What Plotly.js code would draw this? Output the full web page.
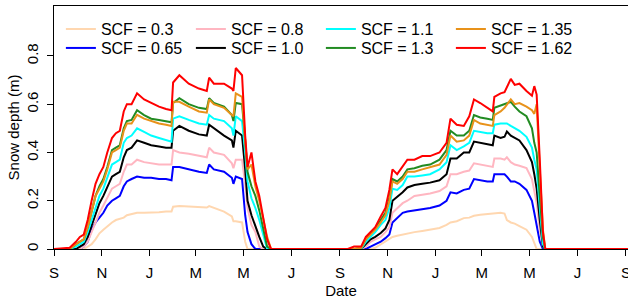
<!DOCTYPE html>
<html>
<head>
<meta charset="utf-8">
<script src="https://cdn.plot.ly/plotly-3.0.1.min.js"></script>
<style>
  html, body { margin: 0; padding: 0; background: #fff; overflow: hidden; }
  #chart { width: 628px; height: 302px; }
</style>
</head>
<body>
<div id="chart"></div>
<script>
// Dates of the sampled points (two snow seasons)
const dates = [
  '2000-09-01','2000-09-21','2000-09-29','2000-10-04','2000-10-09','2000-10-14','2000-10-19','2000-10-24','2000-10-29','2000-11-03',
  '2000-11-08','2000-11-14','2000-11-19','2000-11-24','2000-11-29','2000-12-03','2000-12-09','2000-12-16','2000-12-25','2001-01-03',
  '2001-01-13','2001-01-22','2001-01-29','2001-01-31','2001-02-08','2001-02-20','2001-03-05','2001-03-15','2001-03-18','2001-03-24',
  '2001-04-06','2001-04-16','2001-04-18','2001-04-21','2001-04-29','2001-05-03','2001-05-06','2001-05-11','2001-05-16','2001-05-21',
  '2001-05-26','2001-05-31','2001-06-05',
  '2001-09-11','2001-09-19','2001-09-28','2001-10-04','2001-10-10','2001-10-16','2001-10-23','2001-10-29','2001-11-03','2001-11-07',
  '2001-11-13','2001-11-20','2001-11-26','2001-12-05','2001-12-15','2001-12-25','2002-01-06','2002-01-15','2002-01-20','2002-01-28',
  '2002-02-06','2002-02-13','2002-02-19','2002-02-27','2002-03-08','2002-03-15','2002-03-17','2002-03-25','2002-03-30','2002-04-02',
  '2002-04-07','2002-04-12','2002-04-18','2002-04-27','2002-05-04','2002-05-07','2002-05-10','2002-05-14','2002-05-18','2002-05-21',
  '2002-05-26','2002-06-04',
  '2002-09-20'
];

// Snow depth (m) for each snowfall correction factor
const scf030 = [0,0,0,0,0,0.01,0.02,0.04,0.065,0.08,0.095,0.11,0.12,0.125,0.13,0.14,0.145,0.15,0.15,0.15,0.152,0.155,0.155,0.175,0.178,0.176,0.174,0.172,0.178,0.17,0.155,0.135,0.115,0.115,0.11,0.03,0,0,0,0,0,0,0,
  0,0,0,0,0,0.005,0.02,0.03,0.04,0.05,0.055,0.06,0.065,0.07,0.075,0.08,0.087,0.10,0.11,0.115,0.128,0.13,0.138,0.142,0.145,0.146,0.148,0.15,0.147,0.12,0.11,0.105,0.095,0.08,0.05,0.02,0,0,0,0,0,0,
  0];
const scf065 = [0,0,0,0,0.01,0.03,0.08,0.11,0.13,0.15,0.18,0.20,0.21,0.22,0.26,0.28,0.29,0.30,0.295,0.295,0.29,0.29,0.285,0.34,0.34,0.33,0.32,0.315,0.35,0.33,0.32,0.295,0.27,0.30,0.29,0.14,0.07,0.02,0,0,0,0,0,
  0,0,0,0,0.01,0.02,0.03,0.045,0.06,0.11,0.13,0.15,0.155,0.16,0.165,0.17,0.18,0.20,0.235,0.23,0.245,0.25,0.29,0.285,0.28,0.28,0.31,0.31,0.31,0.30,0.28,0.28,0.27,0.245,0.20,0.15,0.10,0.03,0,0,0,0,
  0];
const scf080 = [0,0,0,0,0.01,0.03,0.07,0.11,0.15,0.18,0.21,0.25,0.26,0.27,0.32,0.35,0.35,0.37,0.36,0.355,0.35,0.35,0.35,0.41,0.40,0.395,0.385,0.38,0.42,0.40,0.39,0.355,0.335,0.37,0.37,0.27,0.17,0.10,0.07,0.01,0,0,0,
  0,0,0,0.01,0.03,0.04,0.05,0.07,0.09,0.15,0.17,0.19,0.20,0.22,0.225,0.23,0.24,0.26,0.31,0.31,0.32,0.325,0.355,0.35,0.345,0.34,0.375,0.375,0.37,0.38,0.36,0.35,0.345,0.335,0.29,0.24,0.19,0.08,0.01,0,0,0,
  0];
const scf100 = [0,0,0,0.01,0.02,0.05,0.10,0.15,0.19,0.22,0.26,0.30,0.31,0.32,0.38,0.41,0.42,0.45,0.44,0.43,0.425,0.42,0.42,0.49,0.51,0.49,0.475,0.47,0.515,0.50,0.47,0.45,0.42,0.49,0.47,0.33,0.20,0.14,0.09,0.05,0.01,0,0,
  0,0,0,0.02,0.04,0.05,0.066,0.085,0.12,0.20,0.215,0.235,0.255,0.265,0.27,0.275,0.285,0.31,0.375,0.375,0.40,0.40,0.445,0.44,0.435,0.43,0.47,0.46,0.465,0.487,0.47,0.46,0.45,0.41,0.36,0.31,0.25,0.12,0.01,0,0,0,
  0];
const scf110 = [0,0,0.01,0.02,0.03,0.07,0.12,0.18,0.22,0.25,0.30,0.35,0.36,0.37,0.44,0.46,0.47,0.50,0.485,0.47,0.46,0.45,0.445,0.54,0.55,0.535,0.52,0.515,0.555,0.54,0.53,0.50,0.47,0.55,0.53,0.40,0.28,0.21,0.17,0.12,0.06,0,0,
  0,0,0,0.03,0.05,0.07,0.10,0.12,0.17,0.25,0.245,0.265,0.30,0.30,0.305,0.31,0.33,0.36,0.43,0.41,0.425,0.44,0.49,0.485,0.48,0.48,0.515,0.52,0.52,0.52,0.51,0.50,0.49,0.465,0.42,0.37,0.33,0.17,0.02,0,0,0,
  0];
const scf130 = [0,0,0.02,0.03,0.04,0.09,0.15,0.22,0.26,0.29,0.34,0.41,0.42,0.43,0.50,0.53,0.535,0.575,0.555,0.54,0.535,0.53,0.525,0.605,0.625,0.60,0.585,0.58,0.625,0.605,0.59,0.555,0.53,0.605,0.60,0.45,0.32,0.26,0.22,0.16,0.08,0.01,0,
  0,0,0.005,0.04,0.065,0.085,0.12,0.15,0.21,0.29,0.28,0.30,0.33,0.335,0.345,0.35,0.37,0.41,0.49,0.47,0.47,0.49,0.555,0.545,0.54,0.535,0.585,0.595,0.60,0.605,0.61,0.59,0.57,0.55,0.50,0.44,0.40,0.22,0.05,0,0,0,
  0];
const scf135 = [0,0,0.02,0.03,0.04,0.09,0.15,0.22,0.25,0.28,0.33,0.40,0.41,0.42,0.49,0.52,0.52,0.556,0.54,0.53,0.52,0.515,0.51,0.61,0.61,0.59,0.57,0.565,0.62,0.60,0.585,0.555,0.55,0.645,0.63,0.45,0.33,0.35,0.26,0.20,0.13,0.05,0,
  0,0,0.005,0.04,0.06,0.08,0.11,0.14,0.20,0.28,0.27,0.29,0.32,0.32,0.33,0.34,0.35,0.39,0.47,0.445,0.45,0.47,0.535,0.52,0.515,0.51,0.555,0.57,0.585,0.60,0.62,0.60,0.605,0.59,0.575,0.56,0.60,0.33,0.08,0,0,0,
  0];
const scf162 = [0,0.005,0.03,0.05,0.06,0.12,0.20,0.27,0.31,0.34,0.40,0.46,0.48,0.49,0.57,0.60,0.60,0.645,0.62,0.605,0.59,0.58,0.575,0.69,0.72,0.685,0.665,0.655,0.71,0.685,0.685,0.665,0.655,0.75,0.72,0.47,0.34,0.40,0.28,0.22,0.135,0.04,0,
  0,0.01,0.01,0.05,0.07,0.09,0.135,0.17,0.245,0.33,0.31,0.34,0.37,0.37,0.385,0.385,0.40,0.44,0.54,0.515,0.51,0.55,0.62,0.605,0.585,0.57,0.63,0.645,0.65,0.67,0.705,0.68,0.685,0.655,0.635,0.675,0.64,0.37,0.07,0,0,0,
  0];

const seriesNames = ['SCF = 0.3','SCF = 0.65','SCF = 0.8','SCF = 1.0','SCF = 1.1','SCF = 1.3','SCF = 1.35','SCF = 1.62'];
const seriesValues = [scf030, scf065, scf080, scf100, scf110, scf130, scf135, scf162];
const seriesColors = ['#FFD7B0','#0000FF','#FFB6C1','#000000','#00FFFF','#228B22','#E8921A','#FF0000'];
// legend row (1 = top row, 2 = bottom row) and position within the row
const legendRow = ['legend','legend2','legend','legend2','legend','legend2','legend','legend2'];
const legendRanks = [1, 1, 2, 2, 3, 3, 4, 4];

const tickDates = ['2000-09-01','2000-11-01','2001-01-01','2001-03-01','2001-05-01','2001-07-01',
                   '2001-09-01','2001-11-01','2002-01-01','2002-03-01','2002-05-01','2002-07-01','2002-09-01'];
const tickLabels = ['S','N','J','M','M','J','S','N','J','M','M','J','S'];
const yTicks = [0, 0.2, 0.4, 0.6, 0.8];
const yTickLabels = ['0','0.2','0.4','0.6','0.8'];

const traces = seriesNames.map((name, i) => ({
  x: dates,
  y: seriesValues[i],
  name: name,
  type: 'scatter',
  mode: 'lines',
  line: { color: seriesColors[i], width: 2 },
  legend: legendRow[i],
  legendrank: legendRanks[i]
}));

const fam = 'Liberation Sans, Arial, sans-serif';
const font = { family: fam, size: 15, color: '#000' };
const legendBase = {
  orientation: 'h',
  x: 0.012, xanchor: 'left',
  yanchor: 'middle',
  entrywidth: 85, entrywidthmode: 'pixels',
  font: { family: fam, size: 16, color: '#000' },
  bgcolor: 'rgba(0,0,0,0)',
  tracegroupgap: 0,
  itemwidth: 30
};

const layout = {
  width: 628, height: 302,
  margin: { l: 54, r: 0, t: 6, b: 53 },
  paper_bgcolor: '#fff', plot_bgcolor: '#fff',
  font: font,
  showlegend: true,
  legend: Object.assign({}, legendBase, { y: 0.905 }),
  legend2: Object.assign({}, legendBase, { y: 0.827 }),
  xaxis: {
    type: 'date',
    range: ['2000-09-01', '2002-09-03 14:00'],
    tickmode: 'array', tickvals: tickDates, ticktext: tickLabels,
    ticks: 'outside', ticklen: 6, tickcolor: '#000', tickwidth: 1,
    ticklabelstandoff: 4,
    showline: true, linecolor: '#000', linewidth: 1, mirror: true,
    showgrid: false, zeroline: false,
    ticklabeloverflow: 'allow',
    tickfont: { family: fam, size: 15, color: '#000' },
    title: { text: 'Date', font: { family: fam, size: 15, color: '#000' }, standoff: 5 },
    automargin: false
  },
  yaxis: {
    range: [0, 1.007],
    tickmode: 'array', tickvals: yTicks, ticktext: yTickLabels,
    tickangle: -90,
    ticks: 'outside', ticklen: 6, tickcolor: '#000', tickwidth: 1,
    ticklabelstandoff: 3,
    showline: true, linecolor: '#000', linewidth: 1, mirror: false,
    showgrid: false, zeroline: false,
    tickfont: { family: fam, size: 15, color: '#000' },
    title: { text: 'Snow depth (m)', font: { family: fam, size: 15, color: '#000' }, standoff: 0 },
    automargin: false
  }
};

Plotly.newPlot('chart', traces, layout, { displayModeBar: false, staticPlot: true });
</script>
</body>
</html>
